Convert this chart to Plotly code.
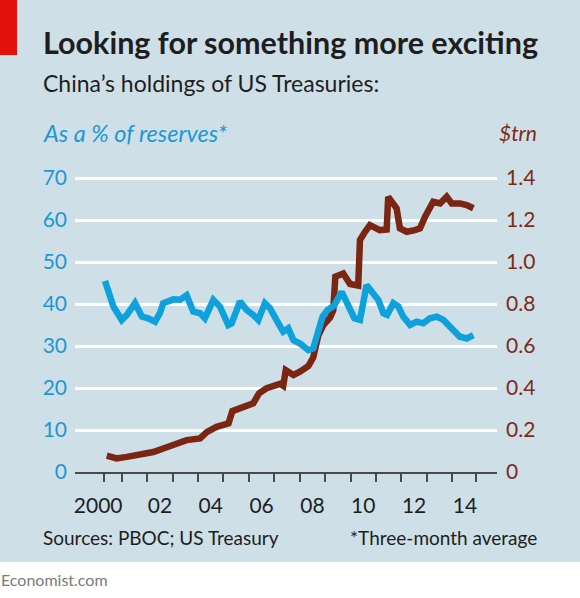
import plotly.graph_objects as go

# ---- data ----
blue_year = [2000.34, 2000.67, 2001.00, 2001.20, 2001.52, 2001.79, 2002.04, 2002.31, 2002.50, 2002.63,
             2003.03, 2003.29, 2003.55, 2003.81, 2004.08, 2004.27, 2004.60, 2004.86, 2005.19, 2005.32,
             2005.65, 2005.91, 2006.17, 2006.37, 2006.63, 2006.83, 2007.16, 2007.35, 2007.55, 2007.75,
             2008.01, 2008.34, 2008.53, 2008.73, 2008.90, 2009.10, 2009.35, 2009.65, 2009.90, 2010.15,
             2010.37, 2010.63, 2010.89, 2011.09, 2011.29, 2011.44, 2011.68, 2011.88, 2012.07, 2012.34,
             2012.60, 2012.86, 2013.12, 2013.39, 2013.65, 2013.98, 2014.30, 2014.57, 2014.83]
pct_of_reserves = [45.5, 39.4, 36.2, 37.4, 40.2, 37.0, 36.6, 35.8, 37.8, 40.2,
                   41.1, 41.0, 42.1, 38.2, 37.8, 36.6, 41.0, 39.4, 35.0, 35.4,
                   40.6, 38.6, 37.4, 36.2, 40.2, 39.0, 35.4, 33.4, 34.2, 31.4,
                   30.6, 29.0, 29.4, 33.0, 37.0, 38.6, 39.6, 42.9, 39.4, 36.6,
                   36.2, 44.5, 42.5, 41.0, 37.8, 37.4, 40.2, 39.4, 37.0, 35.0,
                   35.8, 35.4, 36.6, 37.0, 36.2, 34.2, 32.2, 31.8, 32.6]

brown_year = [2000.41, 2000.80, 2001.20, 2001.72, 2002.24, 2002.77, 2003.20, 2003.55, 2004.08, 2004.34,
              2004.73, 2005.20, 2005.35, 2005.72, 2006.17, 2006.40, 2006.70, 2007.22, 2007.35, 2007.45,
              2007.75, 2008.01, 2008.34, 2008.53, 2008.73, 2008.93, 2009.19, 2009.32, 2009.40, 2009.71,
              2009.98, 2010.30, 2010.37, 2010.57, 2010.76, 2011.15, 2011.42, 2011.48, 2011.68, 2011.81,
              2011.94, 2012.21, 2012.53, 2012.73, 2012.93, 2013.25, 2013.52, 2013.78, 2013.98, 2014.30,
              2014.57, 2014.83]
usd_trn = [0.078, 0.065, 0.072, 0.080, 0.095, 0.118, 0.140, 0.152, 0.160, 0.190,
           0.215, 0.232, 0.290, 0.310, 0.327, 0.375, 0.399, 0.420, 0.410, 0.485,
           0.462, 0.478, 0.505, 0.545, 0.650, 0.700, 0.735, 0.770, 0.930, 0.945,
           0.895, 0.888, 1.105, 1.144, 1.176, 1.152, 1.155, 1.310, 1.279, 1.256,
           1.160, 1.144, 1.152, 1.160, 1.216, 1.287, 1.279, 1.311, 1.279, 1.279,
           1.271, 1.256]

year_label_pos = [2000.07, 2002.5, 2004.5, 2006.5, 2008.5, 2010.5, 2012.5, 2014.5]
year_labels = ["2000", "02", "04", "06", "08", "10", "12", "14"]
year_tick_pos = [2000.31] + [float(y) for y in range(2001, 2015)] + [2014.92]

left_ticks = [0, 10, 20, 30, 40, 50, 60, 70]
right_ticks = [0, 0.2, 0.4, 0.6, 0.8, 1.0, 1.2, 1.4]
right_ticktext = ["0", "0.2", "0.4", "0.6", "0.8", "1.0", "1.2", "1.4"]

# ---- style / layout ----
W, H = 580, 598
L, R, T, B = 75, 83, 170, 126
PW, PH = W - L - R, H - T - B
Y0PX, Y70PX = 472, 178
BG = "#cfdfe8"
BLUE = "#0fa1dc"
BLUE_TXT = "#1b98d5"
BROWN = "#7a2613"
BROWN_TXT = "#7d2a16"
DARK = "#1e1e1e"
FONT = "Lato"

ytop_pct = 70 * PH / (Y0PX - Y70PX)
ytop_trn = 1.4 * PH / (Y0PX - Y70PX)


def fx(px):
    return (px - L) / PW


def fy(py):
    return (H - B - py) / PH


fig = go.Figure()
fig.add_trace(go.Scatter(x=brown_year, y=usd_trn, mode="lines", yaxis="y",
                         line=dict(color=BROWN, width=6.5), hoverinfo="skip", showlegend=False))
fig.add_trace(go.Scatter(x=blue_year, y=pct_of_reserves, mode="lines", yaxis="y2",
                         line=dict(color=BLUE, width=6.5), hoverinfo="skip", showlegend=False))

fig.update_layout(
    width=W, height=H,
    margin=dict(l=L, r=R, t=T, b=B, pad=0),
    paper_bgcolor=BG, plot_bgcolor=BG,
    font=dict(family=FONT, color=DARK),
    xaxis=dict(range=[1999.16, 2015.76], showgrid=False, zeroline=False,
               showline=True, linecolor="#4a4a4a", linewidth=1.5,
               tickmode="array", tickvals=year_label_pos, ticktext=year_labels,
               ticks="", ticklabelstandoff=14,
               tickfont=dict(size=21, color=DARK, family=FONT),
               minor=dict(tickmode="array", tickvals=year_tick_pos, ticks="outside",
                          ticklen=8, tickwidth=1.5, tickcolor="#4a4a4a", showgrid=False),
               fixedrange=True, automargin=False),
    yaxis=dict(range=[0, ytop_trn], side="right", showgrid=True, gridcolor="white", gridwidth=2.5,
               zeroline=False, tickmode="array", tickvals=right_ticks, ticktext=right_ticktext,
               ticks="", ticklabelstandoff=8,
               tickfont=dict(size=21, color=BROWN_TXT, family=FONT), automargin=False),
    yaxis2=dict(range=[0, ytop_pct], side="left", overlaying="y", showgrid=False, zeroline=False,
                tickmode="array", tickvals=left_ticks, ticks="", ticklabelstandoff=7,
                tickfont=dict(size=21, color=BLUE_TXT, family=FONT), automargin=False),
)

shapes = [
    dict(type="rect", xref="paper", yref="paper", x0=fx(0), x1=fx(W), y0=fy(H), y1=fy(562),
         fillcolor="white", line=dict(width=0), layer="below"),
    dict(type="rect", xref="paper", yref="paper", x0=fx(0), x1=fx(17), y0=fy(55), y1=fy(0),
         fillcolor="#e3120b", line=dict(width=0), layer="below"),
]
fig.update_layout(shapes=shapes)

ann = [
    dict(text="<b>Looking for something more exciting</b>", x=fx(42), y=fy(61), xanchor="left",
         yanchor="bottom", font=dict(size=30.5, color=DARK, family=FONT)),
    dict(text="China’s holdings of US Treasuries:", x=fx(42), y=fy(98), xanchor="left",
         yanchor="bottom", font=dict(size=23, color=DARK, family=FONT)),
    dict(text="<i>As a % of reserves*</i>", x=fx(42), y=fy(133), xanchor="left",
         yanchor="middle", font=dict(size=23.5, color=BLUE_TXT, family=FONT)),
    dict(text="<i>$trn</i>", x=fx(538), y=fy(133), xanchor="right",
         yanchor="middle", font=dict(size=21, color=BROWN_TXT, family=FONT)),
    dict(text="Sources: PBOC; US Treasury", x=fx(42), y=fy(537), xanchor="left",
         yanchor="middle", font=dict(size=19, color=DARK, family=FONT)),
    dict(text="*Three-month average", x=fx(538), y=fy(537), xanchor="right",
         yanchor="middle", font=dict(size=19, color=DARK, family=FONT)),
    dict(text="Economist.com", x=fx(0), y=fy(579), xanchor="left",
         yanchor="middle", font=dict(size=16, color="#7a7a7a", family=FONT)),
]
for a in ann:
    a.update(xref="paper", yref="paper", showarrow=False, borderpad=0)
fig.update_layout(annotations=ann)

fig.write_html("out.html")
